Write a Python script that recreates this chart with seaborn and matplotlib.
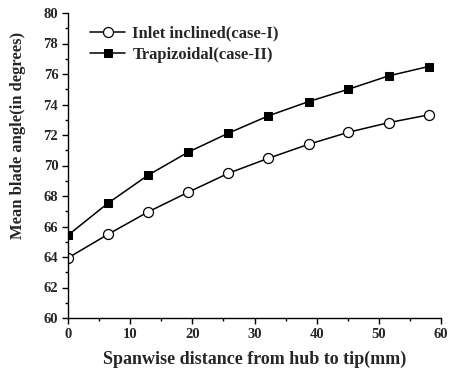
import numpy as np
import pandas as pd
import seaborn as sns
import matplotlib
matplotlib.use("Agg")
import matplotlib.pyplot as plt
from matplotlib.ticker import MultipleLocator

span = [0, 6.4, 12.9, 19.3, 25.8, 32.2, 38.7, 45.1, 51.6, 58.0]
case1 = [63.94, 65.48, 66.96, 68.24, 69.49, 70.47, 71.39, 72.18, 72.81, 73.32]
case2 = [65.43, 67.52, 69.37, 70.87, 72.12, 73.25, 74.19, 75.00, 75.88, 76.49]
labels = ["Inlet inclined(case-I)", "Trapizoidal(case-II)"]

sns.set_theme(style="ticks")
plt.rcParams["font.family"] = ["Liberation Serif", "DejaVu Serif"]
plt.rcParams["font.weight"] = "bold"

df1 = pd.DataFrame({"x": span, "y": case1})
df2 = pd.DataFrame({"x": span, "y": case2})

fig = plt.figure(figsize=(4.5, 3.71), dpi=100)
ax = fig.add_axes([68/450, 1-318/371, (441-68)/450, (318-13)/371])

sns.lineplot(data=df1, x="x", y="y", ax=ax, color="black", lw=1.1,
             marker="o", markersize=7.2, markerfacecolor="white",
             markeredgecolor="black", markeredgewidth=0.9, label=labels[0])
sns.lineplot(data=df2, x="x", y="y", ax=ax, color="black", lw=1.1,
             marker="s", markersize=6.0, markerfacecolor="black",
             markeredgecolor="black", label=labels[1])

ax.set_xlim(0, 60)
ax.set_ylim(60, 80)
ax.xaxis.set_major_locator(MultipleLocator(10))
ax.xaxis.set_minor_locator(MultipleLocator(5))
ax.yaxis.set_major_locator(MultipleLocator(2))
ax.yaxis.set_minor_locator(MultipleLocator(1))
ax.tick_params(which="major", direction="out", length=4, width=1, labelsize=10.5, color="black", pad=3)
ax.tick_params(which="minor", direction="out", length=2, width=1, color="black")
for lab in ax.get_xticklabels() + ax.get_yticklabels():
    lab.set_fontweight("bold")
for s in ["top", "right"]:
    ax.spines[s].set_visible(False)
for s in ["left", "bottom"]:
    ax.spines[s].set_color("black")
    ax.spines[s].set_linewidth(1.0)

ax.set_xlabel("Spanwise distance from hub to tip(mm)", fontsize=13, fontweight="bold", labelpad=7)
ax.set_ylabel("Mean blade angle(in degrees)", fontsize=12, fontweight="bold")
ax.yaxis.set_label_coords(-0.112, 0.6)

leg = ax.legend(loc="upper left", bbox_to_anchor=(0.058, 0.958), frameon=False,
                borderaxespad=0, borderpad=0,
                handlelength=2.15, handletextpad=0.42, labelspacing=0.3,
                prop={"weight": "bold", "size": 12})

fig.savefig("out.png", dpi=100)
